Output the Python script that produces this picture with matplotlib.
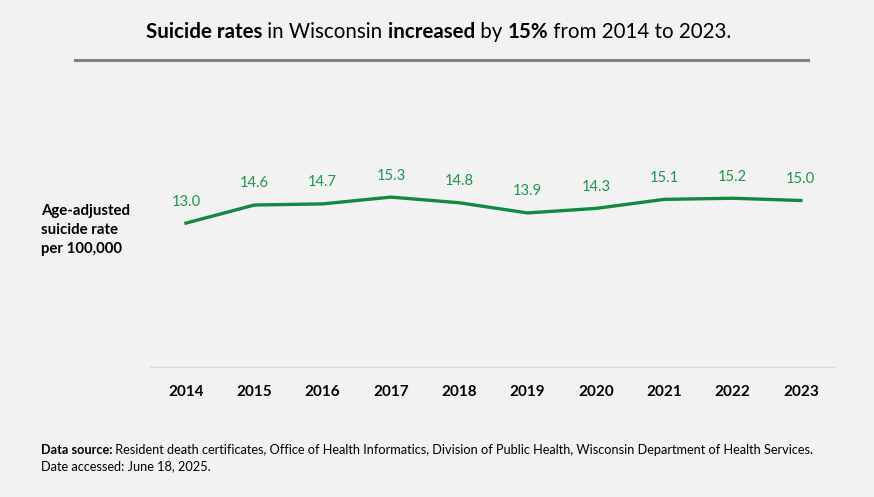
import matplotlib
matplotlib.use("Agg")
import matplotlib.pyplot as plt
from matplotlib.transforms import offset_copy

years = ["2014", "2015", "2016", "2017", "2018", "2019", "2020", "2021", "2022", "2023"]
rates = [13.0, 14.6, 14.7, 15.3, 14.8, 13.9, 14.3, 15.1, 15.2, 15.0]

title_parts = [("Suicide rates", "bold"), (" in Wisconsin ", "normal"), ("increased", "bold"),
               (" by ", "normal"), ("15%", "bold"), (" from 2014 to 2023.", "normal")]
source_parts = [("Data source:", "bold"),
                (" Resident death certificates, Office of Health Informatics, Division of Public Health, "
                 "Wisconsin Department of Health Services.", "normal")]
accessed = "Date accessed: June 18, 2025."
ylabel_lines = ["Age-adjusted", "suicide rate", "per 100,000"]

bg = "#f2f2f2"
green = "#12893f"
label_green = "#1f9450"
plt.rcParams["font.family"] = ["Lato", "DejaVu Sans"]

W, H = 874, 497
fig = plt.figure(figsize=(W / 100, H / 100), dpi=100, facecolor=bg)
# y = 0 sits at pixel row 370, 11.3 px per unit
ax = fig.add_axes([151.8 / W, 1 - 370 / H, (835 - 151.8) / W, 226 / H])
ax.set_facecolor("none")

x = list(range(len(years)))
ax.plot(x, rates, color=green, lw=2.4, solid_joinstyle="round")
for xi, v in zip(x, rates):
    ax.annotate(f"{v:.1f}", (xi, v), xytext=(0, 15.5), textcoords="offset points",
                ha="center", va="center", color=label_green, fontsize=10.6)

ax.set_xlim(-0.5, len(years) - 0.5)
ax.set_ylim(0, 20)
ax.set_xticks(x)
ax.set_xticklabels(years, fontweight="bold", fontsize=11)
ax.tick_params(axis="x", length=0, pad=11)
ax.set_yticks([])
for s in ax.spines.values():
    s.set_visible(False)

# baseline and title underline
fig.add_artist(plt.Line2D([150 / W, 835 / W], [1 - 367.3 / H] * 2, color="#d9d9d9", lw=1))
fig.add_artist(plt.Line2D([75 / W, 808 / W], [1 - 59.5 / H] * 2, color="#808080", lw=2.2))

for i, line in enumerate(ylabel_lines):
    fig.text(41 / W, 1 - (211 + 18.8 * i) / H, line, fontweight="bold", fontsize=10.8,
             va="center", ha="left")

renderer = fig.canvas.get_renderer()


def run_text(parts, x0, y0, width, center=False):
    # lay the pieces side by side and size them to the reference width
    texts = [fig.text(x0, y0, s, fontsize=10, fontweight=w, va="center", ha="left") for s, w in parts]
    total = sum(t.get_window_extent(renderer).width for t in texts)
    size = 10 * width / total
    for t in texts:
        t.set_fontsize(size)
    xpos = -width / 2 if center else 0
    for t in texts:
        t.set_transform(offset_copy(fig.transFigure, fig=fig, x=xpos, y=0, units="dots"))
        xpos += t.get_window_extent(renderer).width
    return size


run_text(title_parts, 440 / W, 1 - 32.5 / H, 588, center=True)
src_size = run_text(source_parts, 41 / W, 1 - 450 / H, 776)
fig.text(41 / W, 1 - 466 / H, accessed, fontsize=src_size, va="center", ha="left")

fig.savefig("out.png", dpi=100, facecolor=bg)
